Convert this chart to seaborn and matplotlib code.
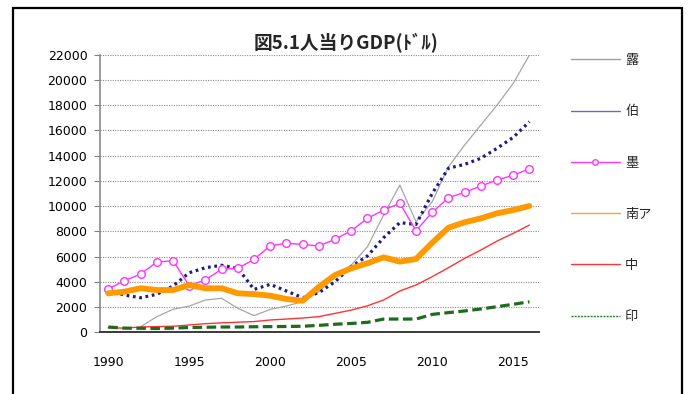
import numpy as np
import pandas as pd
import matplotlib
matplotlib.use("Agg")
import matplotlib.pyplot as plt
from matplotlib.lines import Line2D
from matplotlib.patches import Rectangle
import seaborn as sns

# Per-capita GDP (USD), 1990-2016
years = list(range(1990, 2017))
russia = [np.nan, np.nan, 440, 1240, 1820, 2080, 2560, 2690, 1900, 1320,
          1820, 2080, 2430, 3220, 4410, 5330, 6780, 9300, 11670, 8760,
          10350, 13120, 14840, 16430, 18010, 19730, 21970]
brazil = [3350, 2950, 2740, 3010, 3670, 4720, 5120, 5310, 5070, 3400,
          3800, 3270, 2740, 3140, 4010, 5200, 6050, 7500, 8690, 8550,
          11010, 13000, 13310, 13790, 14580, 15450, 16690]
mexico = [3430, 4090, 4620, 5570, 5670, 3690, 4170, 4990, 5070, 5780,
          6860, 7050, 6970, 6840, 7370, 8050, 9030, 9690, 10220, 8050,
          9510, 10670, 11090, 11590, 12070, 12440, 12960]
safrica = [3090, 3220, 3490, 3350, 3350, 3750, 3490, 3490, 3090, 3030,
           2900, 2640, 2500, 3600, 4540, 5070, 5470, 5940, 5600, 5810,
           7100, 8290, 8720, 9030, 9430, 9690, 10010]
china = [360, 330, 420, 450, 480, 580, 680, 750, 800, 850,
         975, 1050, 1130, 1240, 1500, 1760, 2100, 2560, 3270, 3750,
         4410, 5120, 5860, 6520, 7230, 7840, 8500]
india = [420, 330, 320, 300, 330, 380, 400, 420, 420, 440,
         450, 460, 480, 550, 640, 700, 790, 1050, 1050, 1050,
         1420, 1560, 1690, 1850, 2030, 2220, 2420]

labels = ["露", "伯", "墨", "南ア", "中", "印"]
title = "図5.1人当りGDP(ﾄﾞﾙ)"
xticks = [1990, 1995, 2000, 2005, 2010, 2015]
yticks = list(range(0, 22001, 2000))

sns.set_theme(style="white")
plt.rcParams["font.family"] = ["Noto Sans CJK JP", "DejaVu Sans"]

W, H = 688, 394
fig = plt.figure(figsize=(W / 100, H / 100), dpi=100)
ax = fig.add_axes([100 / W, 1 - 332.3 / H, (539 - 100) / W, (332.3 - 54.7) / H])

# gridlines behind the series
for v in yticks[1:]:
    ax.axhline(v, color="#8c8c8c", lw=0.8, ls=(0, (1, 1.2)), zorder=0)

styles = [
    dict(color="#a6a6a6", lw=0.9),
    dict(color="#1c1c85", lw=2.3, ls=(0, (0.85, 1.15))),
    dict(color="#ff33ff", lw=1.0, marker="o", ms=5.5, mfc="white",
         mec="#ff33ff", mew=1.0),
    dict(color="#ff9900", lw=4.2, solid_capstyle="round"),
    dict(color="#ff3333", lw=1.0),
    dict(color="#1e6b1e", lw=2.3, ls=(0, (3.0, 1.4))),
]
series = [russia, brazil, mexico, safrica, china, india]
for lab, vals, st in zip(labels, series, styles):
    df = pd.DataFrame({"year": years, "gdp": vals}).dropna()
    sns.lineplot(data=df, x="year", y="gdp", ax=ax, legend=False, **st)

ax.set_xlim(1989.49, 2016.59)
ax.set_ylim(0, 22000)
ax.set_xticks(xticks)
ax.set_yticks(yticks)
ax.set_xlabel("")
ax.set_ylabel("")
ax.tick_params(axis="x", length=0, pad=17, labelsize=9, colors="black")
ax.tick_params(axis="y", length=4, width=0.8, pad=5,
               labelsize=9, direction="out", left=True)
ax.tick_params(axis="y", colors="black")
ax.yaxis.set_tick_params(color="#808080")
for lbl in ax.get_xticklabels() + ax.get_yticklabels():
    lbl.set_fontfamily("DejaVu Sans")
for s in ("top", "right"):
    ax.spines[s].set_visible(False)
ax.spines["left"].set_color("#8a8a8a")
ax.spines["left"].set_linewidth(1.2)
ax.spines["bottom"].set_color("#3a3a3a")
ax.spines["bottom"].set_linewidth(1.4)

fig.text(346 / W, 1 - 42 / H, title, ha="center", va="center",
         fontsize=13.5, fontweight="bold",
         bbox=dict(facecolor="white", edgecolor="none", pad=2))

handles = [
    Line2D([], [], color="#a0a0a0", lw=1.0),
    Line2D([], [], color="#6a6ab8", lw=1.0),
    Line2D([], [], color="#ff33ff", lw=1.0, marker="o", ms=4, mfc="white",
           mec="#ff33ff"),
    Line2D([], [], color="#ffa31a", lw=1.0),
    Line2D([], [], color="#ff3333", lw=1.0),
    Line2D([], [], color="#2e7d2e", lw=1.0, ls=(0, (1.5, 0.8))),
]
fig.legend(handles, labels, loc="upper left",
           bbox_to_anchor=(571 / W, 1 - 54 / H), bbox_transform=fig.transFigure,
           frameon=False, fontsize=9.5, handlelength=3.7, handletextpad=0.4,
           labelspacing=2.9, borderpad=0, borderaxespad=0)

# outer frame
fig.add_artist(Rectangle((13 / W, -0.2), (682 - 13) / W, 1.2 - 8 / H,
                         transform=fig.transFigure, fill=False,
                         edgecolor="black", lw=1.6, clip_on=False))

fig.savefig("out.png", dpi=100)
